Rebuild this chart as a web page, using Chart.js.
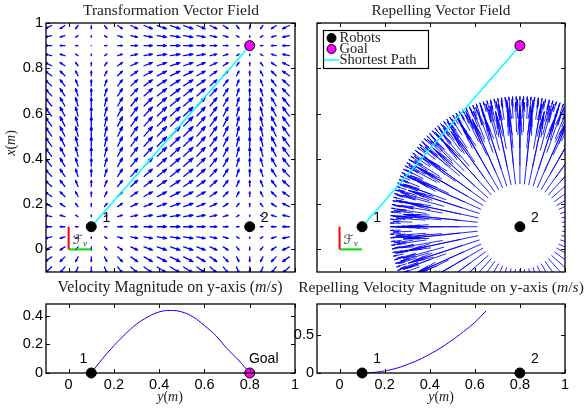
<!DOCTYPE html>
<html><head><meta charset="utf-8">
<script src="https://cdn.jsdelivr.net/npm/chart.js@4.4.1/dist/chart.umd.min.js"></script>
<style>
html,body{margin:0;padding:0;background:#fff;}
#wrap{position:relative;width:585px;height:408px;overflow:hidden;background:#fff;}
canvas{position:absolute;left:0;top:0;}
</style></head><body>
<div id="wrap">
<canvas id="c1" width="585" height="408"></canvas>
<canvas id="c2" width="585" height="408"></canvas>
<canvas id="c3" width="585" height="408"></canvas>
<canvas id="c4" width="585" height="408"></canvas>
</div>
<script>
// ---------------- DATA ----------------
// horizontal axis = y(m), vertical axis = x(m)
const robotH = [0.1, 0.8];
const robotV = [0.1, 0.1];
const robotLabels = ['1', '2'];
const goalH = 0.8, goalV = 0.9;
const goalLabel = 'Goal';

const hTicks = [0, 0.2, 0.4, 0.6, 0.8, 1];
const hTickLabels = ['0', '0.2', '0.4', '0.6', '0.8', '1'];
const topVTicks = [0, 0.2, 0.4, 0.6, 0.8, 1];
const topVTickLabels = ['0', '0.2', '0.4', '0.6', '0.8', '1'];
const velVTicks = [0, 0.2, 0.4];
const velVTickLabels = ['0', '0.2', '0.4'];
const repVTicks = [0, 0.5];
const repVTickLabels = ['0', '0.5'];

// transformation vector field: grid columns/rows and components (u per column, v per row)
const fieldColsH = [-0.075,-0.0167,0.0417,0.1,0.1583,0.2167,0.275,0.3333,0.3917,0.45,0.5083,0.5667,0.625,0.6833,0.7417,0.8,0.8583,0.9167,0.975];
const fieldU     = [-0.71,-0.5,-0.26,0,0.26,0.5,0.71,0.87,0.97,1,0.97,0.87,0.71,0.5,0.26,0,-0.26,-0.5,-0.71];
const fieldRowsV = [-0.0778,-0.0333,0.0111,0.0556,0.1,0.1444,0.1889,0.2333,0.2778,0.3222,0.3667,0.4111,0.4556,0.5,0.5444,0.5889,0.6333,0.6778,0.7222,0.7667,0.8111,0.8556,0.9,0.9444,0.9889];
const fieldV     = [-0.64,-0.5,-0.34,-0.17,0,0.17,0.34,0.5,0.64,0.77,0.87,0.94,0.98,1,0.98,0.94,0.87,0.77,0.64,0.5,0.34,0.17,0,-0.17,-0.34];
const FIELD_SCALE = 0.042;

// repelling field around robot 2: rings of radial arrows (start radius, count, end radius)
const repRingR   = [0.19, 0.27, 0.35, 0.42, 0.48, 0.53];
const repRingN   = [60, 60, 72, 90, 150, 220];
const repRingEnd = [0.50, 0.52, 0.535, 0.55, 0.562, 0.575];

// velocity magnitude along y-axis
const velH   = [0.1,0.15,0.2,0.25,0.3,0.35,0.4,0.45,0.5,0.55,0.6,0.65,0.7,0.75,0.8];
const velMag = [0,0.10,0.19,0.27,0.34,0.39,0.425,0.435,0.425,0.39,0.33,0.26,0.17,0.09,0];
// repelling velocity magnitude along y-axis
const repH   = [0.1,0.15,0.2,0.25,0.3,0.35,0.4,0.45,0.5,0.55,0.6,0.65];
const repMag = [0,0.007,0.027,0.06,0.11,0.17,0.245,0.33,0.43,0.54,0.66,0.81];

// ---------------- HELPERS ----------------
const SERIF = '"Liberation Serif","DejaVu Serif",serif';
const SANS = '"Liberation Sans",Arial,sans-serif';
const BLUE = '#0000ff', CYAN = '#00ffff', MAGENTA = '#ff00ff';

function drawArrow(ctx, x0, y0, x1, y1, a, b) {
  const dx = x1 - x0, dy = y1 - y0;
  ctx.moveTo(x0, y0); ctx.lineTo(x1, y1);
  ctx.moveTo(x1 - a * (dx + b * dy), y1 - a * (dy - b * dx));
  ctx.lineTo(x1, y1);
  ctx.lineTo(x1 - a * (dx - b * dy), y1 - a * (dy + b * dx));
}

function drawRich(ctx, parts, cx, cy, size, targetW) {
  const fontOf = (p, s) => (p[1] ? 'italic ' : '') + s + 'px ' + SERIF;
  const measure = s => parts.reduce((w, p) => { ctx.font = fontOf(p, s); return w + ctx.measureText(p[0]).width; }, 0);
  let sz = size;
  if (targetW) sz = size * targetW / measure(size);
  const w = measure(sz);
  let x = cx - w / 2;
  ctx.textBaseline = 'middle'; ctx.textAlign = 'left'; ctx.fillStyle = '#222';
  for (const p of parts) { ctx.font = fontOf(p, sz); ctx.fillText(p[0], x, cy); x += ctx.measureText(p[0]).width; }
}

function sansText(ctx, t, x, y, size) {
  ctx.font = size + 'px ' + SANS; ctx.fillStyle = '#000';
  ctx.textAlign = 'center'; ctx.textBaseline = 'middle';
  ctx.fillText(t, x, y);
}

function frameLabel(ctx, x, y) {
  ctx.fillStyle = '#333';
  ctx.textAlign = 'left'; ctx.textBaseline = 'middle';
  ctx.font = 'italic 13px "DejaVu Serif","DejaVu Sans",serif';
  ctx.fillText('\u2131', x, y);
  const w = ctx.measureText('\u2131').width;
  ctx.font = 'italic 9px ' + SERIF;
  ctx.fillText('v', x + w, y + 3);
}

const quiverPlugin = {
  id: 'quiver',
  beforeDatasetsDraw(chart, args, o) {
    if (!o || !o.kind) return;
    const ctx = chart.ctx, ca = chart.chartArea, sx = chart.scales.x, sy = chart.scales.y;
    ctx.save();
    ctx.beginPath(); ctx.rect(ca.left, ca.top, ca.right - ca.left, ca.bottom - ca.top); ctx.clip();
    ctx.strokeStyle = BLUE; ctx.lineCap = 'round'; ctx.lineJoin = 'round';
    ctx.beginPath();
    if (o.kind === 'grid') {
      ctx.lineWidth = 1.3;
      for (let r = 0; r < fieldRowsV.length; r++) for (let c = 0; c < fieldColsH.length; c++) {
        const h = fieldColsH[c], v = fieldRowsV[r];
        drawArrow(ctx, sx.getPixelForValue(h), sy.getPixelForValue(v),
          sx.getPixelForValue(h + FIELD_SCALE * fieldU[c]), sy.getPixelForValue(v + FIELD_SCALE * fieldV[r]), 0.33, 0.33);
      }
    } else {
      ctx.lineWidth = 0.85;
      const ch = robotH[1], cv = robotV[1];
      for (let k = 0; k < repRingR.length; k++) {
        const n = repRingN[k], r0 = repRingR[k], r1 = repRingEnd[k];
        for (let i = 0; i < n; i++) {
          const t = i * 2 * Math.PI / n;
          const c = Math.cos(t), s = Math.sin(t);
          drawArrow(ctx, sx.getPixelForValue(ch + r0 * c), sy.getPixelForValue(cv + r0 * s),
            sx.getPixelForValue(ch + r1 * c), sy.getPixelForValue(cv + r1 * s), 0.3, 0.1);
        }
      }
    }
    ctx.stroke();
    ctx.restore();
  }
};

const framePlugin = {
  id: 'frame',
  afterDatasetsDraw(chart, args, o) {
    const ctx = chart.ctx, ca = chart.chartArea, sx = chart.scales.x, sy = chart.scales.y;
    const L = 4;
    ctx.save();
    ctx.strokeStyle = '#000'; ctx.lineWidth = 1;
    ctx.beginPath();
    for (const v of (o.xt || [])) {
      const p = Math.round(sx.getPixelForValue(v)) + 0.5;
      ctx.moveTo(p, ca.bottom); ctx.lineTo(p, ca.bottom - L);
      ctx.moveTo(p, ca.top); ctx.lineTo(p, ca.top + L);
    }
    for (const v of (o.yt || [])) {
      const p = Math.round(sy.getPixelForValue(v)) + 0.5;
      ctx.moveTo(ca.left, p); ctx.lineTo(ca.left + L, p);
      ctx.moveTo(ca.right, p); ctx.lineTo(ca.right - L, p);
    }
    ctx.stroke();
    ctx.lineWidth = 1.3;
    ctx.strokeRect(ca.left, ca.top, ca.right - ca.left, ca.bottom - ca.top);
    ctx.restore();
  }
};
Chart.register(quiverPlugin, framePlugin);

function axisH(showLabels, height) {
  return {
    type: 'linear', min: -0.1, max: 1,
    afterBuildTicks: s => { s.ticks = hTicks.map(v => ({ value: v })); },
    afterFit: s => { s.height = height; },
    grid: { display: false, drawTicks: false }, border: { display: false },
    ticks: { display: showLabels, autoSkip: false, maxRotation: 0, minRotation: 0, padding: 3,
      color: '#000', font: { family: SANS, size: 14.5 },
      callback: v => hTickLabels[hTicks.indexOf(v)] }
  };
}
function axisV(min, max, ticks, labels, showLabels, width) {
  return {
    type: 'linear', min: min, max: max,
    afterBuildTicks: s => { s.ticks = ticks.map(v => ({ value: v })); },
    afterFit: s => { s.width = width; },
    grid: { display: false, drawTicks: false }, border: { display: false },
    ticks: { display: showLabels, autoSkip: false, padding: 3,
      color: '#000', font: { family: SANS, size: 14.5 },
      callback: v => labels[ticks.indexOf(v)] }
  };
}

function markerSet(hs, vs, color, border) {
  return { data: hs.map((h, i) => ({ x: h, y: vs[i] })), showLine: false,
    pointRadius: 5, pointHoverRadius: 5, pointBackgroundColor: color,
    pointBorderColor: border, pointBorderWidth: 1, clip: false };
}
function lineSet(hs, vs, color, width, tension) {
  return { data: hs.map((h, i) => ({ x: h, y: vs[i] })), showLine: true, pointRadius: 0,
    borderColor: color, borderWidth: width, tension: tension || 0, fill: false };
}

function baseOptions(pad, xAxis, yAxis, extra) {
  return {
    responsive: false, animation: false, devicePixelRatio: 1,
    layout: { padding: pad },
    scales: { x: xAxis, y: yAxis },
    plugins: Object.assign({ legend: { display: false }, tooltip: { enabled: false }, title: { display: false } }, extra),
    events: []
  };
}

// ---------------- CHART 1: Transformation Vector Field ----------------
new Chart(document.getElementById('c1'), {
  type: 'scatter',
  data: { datasets: [
    markerSet([robotH[0], robotH[1]], [robotV[0], robotV[1]], '#000', '#000'),
    markerSet([goalH], [goalV], MAGENTA, '#000'),
    lineSet([robotH[0], goalH], [robotV[0], goalV], CYAN, 1.5),
    lineSet([0, 0], [0, 0.1], '#ff0000', 2),
    lineSet([0, 0.1], [0, 0], '#00dd00', 2)
  ] },
  options: baseOptions({ left: 0, top: 23, right: 290, bottom: 123 },
    axisH(false, 13), axisV(-0.1, 1, topVTicks, topVTickLabels, true, 46),
    { quiver: { kind: 'grid' }, frame: { xt: hTicks, yt: topVTicks } }),
  plugins: [{ id: 'txt1', afterDraw(chart) {
    const ctx = chart.ctx, sx = chart.scales.x, sy = chart.scales.y;
    ctx.save();
    drawRich(ctx, [['Transformation Vector Field', false]], 171, 11, 14, 176);
    for (let i = 0; i < robotH.length; i++)
      sansText(ctx, robotLabels[i], sx.getPixelForValue(robotH[i]) + 15, sy.getPixelForValue(robotV[i]) - 9, 14);
    frameLabel(ctx, sx.getPixelForValue(0.018), sy.getPixelForValue(0.04));
    ctx.translate(11, 143); ctx.rotate(-Math.PI / 2);
    drawRich(ctx, [['x', true], ['(', false], ['m', true], [')', false]], 0, 0, 14);
    ctx.restore();
  } }]
});

// ---------------- CHART 2: Repelling Vector Field ----------------
new Chart(document.getElementById('c2'), {
  type: 'scatter',
  data: { datasets: [
    markerSet([robotH[0], robotH[1]], [robotV[0], robotV[1]], '#000', '#000'),
    markerSet([goalH], [goalV], MAGENTA, '#000'),
    lineSet([robotH[0], goalH], [robotV[0], goalV], CYAN, 1.5),
    lineSet([0, 0], [0, 0.1], '#ff0000', 2),
    lineSet([0, 0.1], [0, 0], '#00dd00', 2)
  ] },
  options: baseOptions({ left: 287, top: 23, right: 20, bottom: 123 },
    axisH(false, 13), axisV(-0.1, 1, topVTicks, topVTickLabels, false, 30),
    { quiver: { kind: 'radial' }, frame: { xt: hTicks, yt: topVTicks } }),
  plugins: [{ id: 'txt2', afterDraw(chart) {
    const ctx = chart.ctx, sx = chart.scales.x, sy = chart.scales.y;
    ctx.save();
    drawRich(ctx, [['Repelling Vector Field', false]], 441, 11, 14, 139);
    for (let i = 0; i < robotH.length; i++)
      sansText(ctx, robotLabels[i], sx.getPixelForValue(robotH[i]) + 15, sy.getPixelForValue(robotV[i]) - 9, 14);
    frameLabel(ctx, sx.getPixelForValue(0.018), sy.getPixelForValue(0.04));
    // legend
    ctx.fillStyle = '#fff'; ctx.fillRect(323.5, 30.5, 105, 38);
    ctx.strokeStyle = '#000'; ctx.lineWidth = 1.2; ctx.strokeRect(323.5, 30.5, 105, 38);
    const items = [['Robots', 'dot', '#000'], ['Goal', 'dot', MAGENTA], ['Shortest Path', 'line', CYAN]];
    const ys = [38, 49, 60];
    items.forEach((it, i) => {
      if (it[1] === 'dot') {
        ctx.beginPath(); ctx.arc(331.5, ys[i], 4.5, 0, 2 * Math.PI);
        ctx.fillStyle = it[2]; ctx.fill(); ctx.strokeStyle = '#000'; ctx.lineWidth = 1; ctx.stroke();
      } else {
        ctx.beginPath(); ctx.moveTo(324, ys[i]); ctx.lineTo(339, ys[i]);
        ctx.strokeStyle = it[2]; ctx.lineWidth = 1.5; ctx.stroke();
      }
      ctx.font = '14.5px ' + SERIF; ctx.fillStyle = '#222'; ctx.textAlign = 'left'; ctx.textBaseline = 'middle';
      ctx.fillText(it[0], 339.5, ys[i]);
    });
    ctx.restore();
  } }]
});

// ---------------- CHART 3: Velocity Magnitude ----------------
new Chart(document.getElementById('c3'), {
  type: 'scatter',
  data: { datasets: [
    markerSet([robotH[0]], [0], '#000', '#000'),
    markerSet([goalH], [0], MAGENTA, '#000'),
    lineSet(velH, velMag, BLUE, 1, 0.4)
  ] },
  options: baseOptions({ left: 0, top: 304, right: 290, bottom: 13 },
    axisH(true, 22), axisV(0, 0.48, velVTicks, velVTickLabels, true, 46),
    { frame: { xt: hTicks, yt: velVTicks } }),
  plugins: [{ id: 'txt3', afterDraw(chart) {
    const ctx = chart.ctx, sx = chart.scales.x, sy = chart.scales.y;
    ctx.save();
    drawRich(ctx, [['Velocity Magnitude on y-axis ', false], ['(', false], ['m', true], ['/', false], ['s', true], [')', false]], 170, 288, 14, 225);
    sansText(ctx, robotLabels[0], sx.getPixelForValue(robotH[0]) - 8, sy.getPixelForValue(0) - 14, 14);
    sansText(ctx, goalLabel, sx.getPixelForValue(goalH) + 14, sy.getPixelForValue(0) - 14, 14);
    drawRich(ctx, [['y', true], ['(', false], ['m', true], [')', false]], 170, 397, 14);
    ctx.restore();
  } }]
});

// ---------------- CHART 4: Repelling Velocity Magnitude ----------------
new Chart(document.getElementById('c4'), {
  type: 'scatter',
  data: { datasets: [
    markerSet([robotH[0], robotH[1]], [0, 0], '#000', '#000'),
    lineSet(repH, repMag, BLUE, 1, 0.4)
  ] },
  options: baseOptions({ left: 287, top: 304, right: 20, bottom: 13 },
    axisH(true, 22), axisV(0, 0.9, repVTicks, repVTickLabels, true, 30),
    { frame: { xt: hTicks, yt: repVTicks } }),
  plugins: [{ id: 'txt4', afterDraw(chart) {
    const ctx = chart.ctx, sx = chart.scales.x, sy = chart.scales.y;
    ctx.save();
    drawRich(ctx, [['Repelling Velocity Magnitude on y-axis ', false], ['(', false], ['m', true], ['/', false], ['s', true], [')', false]], 441, 288, 14, 286);
    for (let i = 0; i < robotH.length; i++)
      sansText(ctx, robotLabels[i], sx.getPixelForValue(robotH[i]) + 15, sy.getPixelForValue(0) - 14, 14);
    drawRich(ctx, [['y', true], ['(', false], ['m', true], [')', false]], 441, 397, 14);
    ctx.restore();
  } }]
});
</script>
</body></html>
